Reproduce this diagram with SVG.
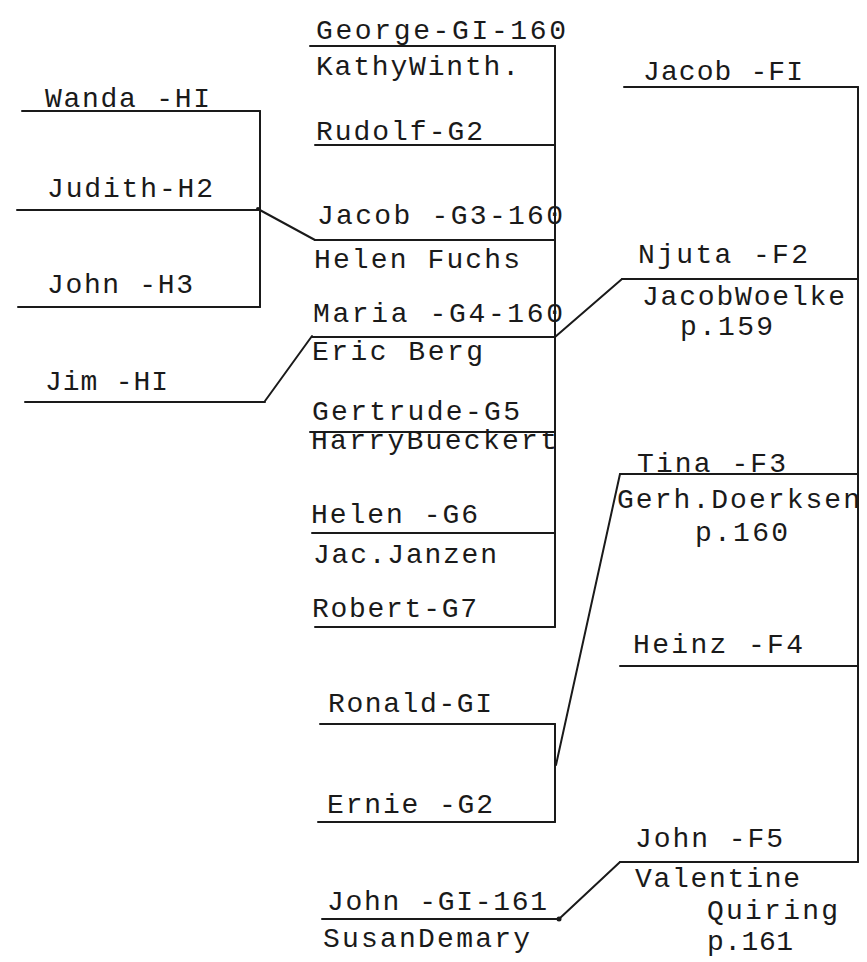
<svg xmlns="http://www.w3.org/2000/svg" width="867" height="962" viewBox="0 0 867 962">
<style>
text{font-family:"Liberation Mono","DejaVu Sans Mono",monospace;font-size:28px;fill:#1a1a1a}
.l{stroke:#1a1a1a;stroke-width:2;fill:none;stroke-linecap:round;stroke-linejoin:round}
</style>
<rect width="867" height="962" fill="#fff"/>
<g id="connectors" class="l">
<path d="M260,111 V307"/>
<path d="M258,209 L315,240"/>
<path d="M265,401 L312,336"/>
<path d="M555,46 V627"/>
<path d="M555,724 V822"/>
<path d="M858,87 V862"/>
<path d="M555,337 L622,279"/>
<path d="M556,765 L620,474"/>
<path d="M559,919 L620,862"/>
</g>
<g id="dots" fill="#1a1a1a">
<circle cx="258" cy="209" r="2"/>
<circle cx="559" cy="919" r="2.5"/>
</g>
<g id="n-wanda"><path class="l" d="M22,111 H260"/><text x="45" y="107" textLength="165">Wanda -HI</text></g>
<g id="n-judith"><path class="l" d="M17,210 H258"/><text x="47" y="197" textLength="166">Judith-H2</text></g>
<g id="n-john-h3"><path class="l" d="M18,307 H260"/><text x="47" y="293" textLength="146">John -H3</text></g>
<g id="n-jim"><path class="l" d="M25,402 H265"/><text x="45" y="390" textLength="123">Jim -HI</text></g>

<g id="n-george"><path class="l" d="M310,46 H555"/><text x="316" y="39" textLength="250">George-GI-160</text><text x="316" y="75" textLength="203">KathyWinth.</text></g>
<g id="n-rudolf"><path class="l" d="M315,145 H555"/><text x="316" y="140" textLength="167">Rudolf-G2</text></g>
<g id="n-jacob-g3"><path class="l" d="M315,240 H555"/><text x="317" y="224" textLength="246">Jacob -G3-160</text><text x="314" y="268" textLength="206">Helen Fuchs</text></g>
<g id="n-maria"><path class="l" d="M312,337 H555"/><text x="313" y="322" textLength="250">Maria -G4-160</text><text x="312" y="360" textLength="171">Eric Berg</text></g>
<g id="n-gertrude"><path class="l" d="M310,432 H555"/><text x="312" y="420" textLength="208">Gertrude-G5</text><text x="311" y="449" textLength="246">HarryBueckert</text></g>
<g id="n-helen-g6"><path class="l" d="M312,533 H555"/><text x="311" y="523" textLength="167">Helen -G6</text><text x="313" y="563" textLength="184">Jac.Janzen</text></g>
<g id="n-robert"><path class="l" d="M315,627 H555"/><text x="312" y="617" textLength="165">Robert-G7</text></g>
<g id="n-ronald"><path class="l" d="M320,724 H555"/><text x="328" y="712" textLength="164">Ronald-GI</text></g>
<g id="n-ernie"><path class="l" d="M318,822 H555"/><text x="327" y="813" textLength="166">Ernie -G2</text></g>
<g id="n-john-g1"><path class="l" d="M322,919 H559"/><text x="327" y="910" textLength="220">John -GI-161</text><text x="323" y="947" textLength="207">SusanDemary</text></g>

<g id="n-jacob-f1"><path class="l" d="M624,87 H858"/><text x="643" y="80" textLength="160">Jacob -FI</text></g>
<g id="n-njuta"><path class="l" d="M622,279 H858"/><text x="638" y="263" textLength="170">Njuta -F2</text><text x="642" y="305" textLength="203">JacobWoelke</text><text x="680" y="335" textLength="93">p.159</text></g>
<g id="n-tina"><path class="l" d="M620,474 H858"/><text x="637" y="472" textLength="149">Tina -F3</text><text x="617" y="508" textLength="243">Gerh.Doerksen</text><text x="695" y="541" textLength="93">p.160</text></g>
<g id="n-heinz"><path class="l" d="M620,666 H858"/><text x="633" y="653" textLength="170">Heinz -F4</text></g>
<g id="n-john-f5"><path class="l" d="M620,862 H858"/><text x="635" y="887" textLength="165">Valentine</text><text x="635" y="847" textLength="148">John -F5</text><text x="707" y="919" textLength="131">Quiring</text><text x="707" y="950" textLength="86">p.161</text></g>
</svg>
